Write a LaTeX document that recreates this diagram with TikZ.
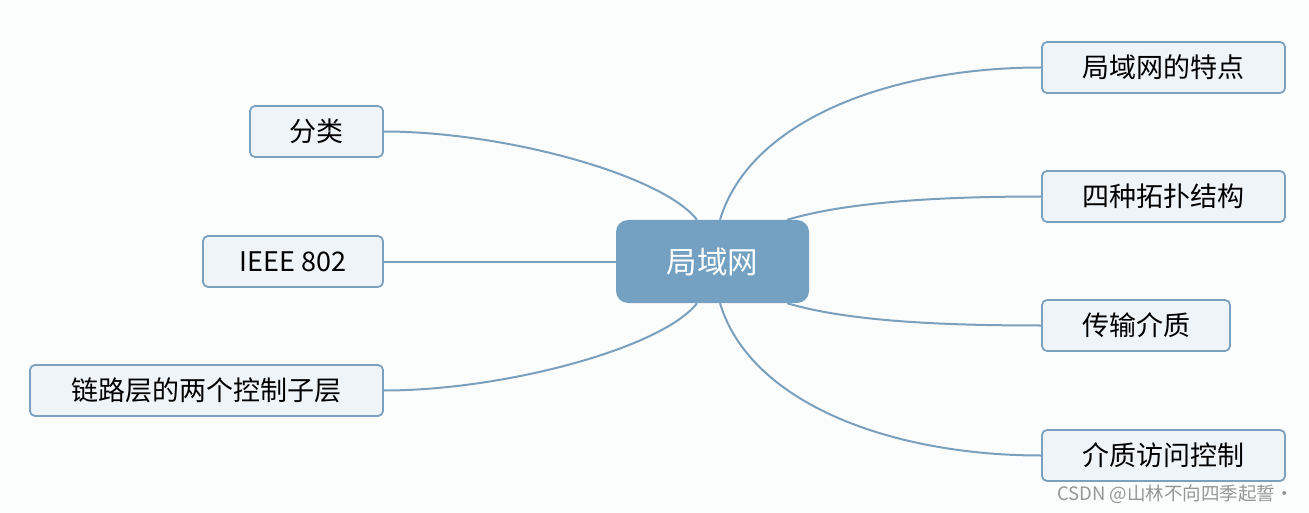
\documentclass[tikz,border=0pt]{standalone}
\usepackage{fontspec}
\setmainfont{Noto Sans CJK SC}
\definecolor{bgc}{RGB}{251,252,252}
\definecolor{hubfill}{RGB}{116,161,193}
\definecolor{leaffill}{RGB}{239,244,248}
\definecolor{leafline}{RGB}{124,161,190}
\definecolor{linkc}{RGB}{122,160,190}
\definecolor{markc}{RGB}{150,150,150}
\tikzset{
  hub/.style={rectangle, rounded corners=12pt, fill=hubfill, draw=none, text=white,
    minimum width=193pt, minimum height=83pt, inner sep=0pt, font=\fontsize{30.5}{36}\selectfont},
  leaf/.style={rectangle, rounded corners=5pt, fill=leaffill, draw=leafline, line width=1.8pt,
    minimum height=51pt, inner sep=0pt, text=black, font=\fontsize{27}{32}\selectfont},
  link/.style={draw=linkc, line width=2pt},
}
\begin{document}
\begin{tikzpicture}[x=1pt,y=-1pt]
\fill[bgc] (0,0) rectangle (1309,513);
\useasboundingbox (0,0) rectangle (1309,513);
\node[hub] (c) at (712.5,261.5) {局域网};
\node[leaf, minimum width=243pt] (td) at (1163.5,67.5) {局域网的特点};
\node[leaf, minimum width=243pt] (tp) at (1163.5,196.5) {四种拓扑结构};
\node[leaf, minimum width=188pt] (cs) at (1136,325.5) {传输介质};
\node[leaf, minimum width=243pt] (fw) at (1163.5,455.5) {介质访问控制};
\node[leaf, minimum width=133pt] (fl) at (316.5,131.5) {分类};
\node[leaf, minimum width=180pt] (ie) at (293,261.5) {IEEE 802};
\node[leaf, minimum width=353pt] (ll) at (206.5,390.5) {链路层的两个控制子层};
\draw[link] ([xshift=-15.5pt]c.north) .. controls +(-35,-45) and +(120,0) .. (fl.east);
\draw[link] (c.west) -- (ie.east);
\draw[link] ([xshift=-15.5pt]c.south) .. controls +(-35,45) and +(120,0) .. (ll.east);
\draw[link] ([xshift=7.5pt]c.north) .. controls +(30,-100) and +(-150,0) .. (td.west);
\draw[link] ([xshift=-22pt]c.north east) .. controls +(60,-18) and +(-100,0) .. (tp.west);
\draw[link] ([xshift=-22pt]c.south east) .. controls +(60,18) and +(-100,0) .. (cs.west);
\draw[link] ([xshift=7.5pt]c.south) .. controls +(30,100) and +(-150,0) .. (fw.west);
\node[anchor=east, text=markc, inner sep=0pt, font=\fontsize{18.5}{21}\selectfont] (wm) at (1294,494) {CSDN @山林不向四季起誓·};
\end{tikzpicture}
\end{document}
